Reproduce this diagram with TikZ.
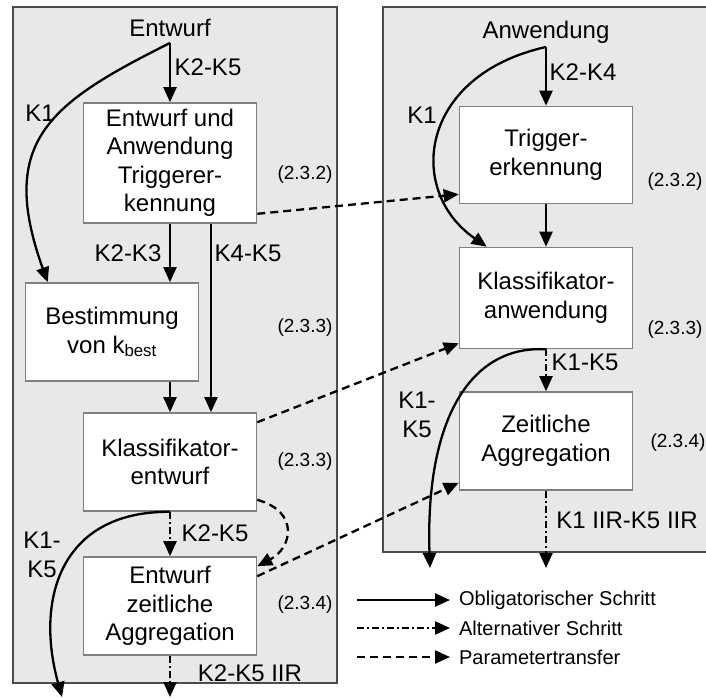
\documentclass[tikz,border=0pt]{standalone}
\usepackage{fontspec}
\setmainfont{Liberation Sans}
\usetikzlibrary{arrows.meta}

\begin{document}
\begin{tikzpicture}[x=1pt, y=-1pt, >={Triangle[length=15pt,width=13pt]}, line width=2.3pt,
        every node/.style={font=\fontsize{24}{28.5}\selectfont},
        panel/.style={draw=black!70, fill=black!9, line width=1.3pt},
        box/.style={draw=black!50, fill=white, line width=1.6pt, align=center,
            minimum width=173pt, minimum height=98pt, inner sep=2pt},
        sec/.style={font=\fontsize{19}{21}\selectfont},
        legend/.style={anchor=west, inner xsep=8pt, font=\fontsize{20}{24}\selectfont},
        alt/.style={dash pattern=on 7pt off 3pt on 2pt off 3pt},
        param/.style={dash pattern=on 8pt off 5pt}]

        \useasboundingbox (0,0) rectangle (706,698);

        % Panels
        \draw[panel] (13,7) rectangle (337,683);
        \draw[panel] (383,7) rectangle (708,552);

        % Entwurf
        \node (E0) at (170,28) {Entwurf};
        \coordinate (jE) at (170,43);
        \node[box, minimum height=120pt] (E1) at (170,163) {Entwurf und\\Anwendung\\Triggerer-\\kennung};
        \node[box] (E2) at (112,332) {Bestimmung\\von k\textsubscript{best}};
        \node[box] (E3) at (170,462) {Klassifikator-\\entwurf};
        \node[box] (E4) at (170,606) {Entwurf\\zeitliche\\Aggregation};
        \coordinate (oE1) at (62,697);
        \coordinate (oE2) at (170,697);

        % Anwendung
        \node (A0) at (546,32) {Anwendung};
        \coordinate (jA) at (546,47);
        \node[box, minimum height=97pt] (A1) at (546,155) {Trigger-\\erkennung};
        \node[box, minimum height=101pt] (A2) at (546,298) {Klassifikator-\\anwendung};
        \node[box] (A3) at (546,441) {Zeitliche\\Aggregation};
        \coordinate (oA1) at (430,568);
        \coordinate (oA2) at (546,568);

        % Sections
        \node[sec] (s1) at (305,175) {(2.3.2)};
        \node[sec] (s2) at (305,328) {(2.3.3)};
        \node[sec] (s3) at (305,462) {(2.3.3)};
        \node[sec] (s4) at (305,605) {(2.3.4)};
        \node[sec] (s5) at (675,182) {(2.3.2)};
        \node[sec] (s6) at (675,330) {(2.3.3)};
        \node[sec] (s7) at (678,443) {(2.3.4)};

        % Steps, left
        \draw[->] (jE) -- (E1);
        \draw[->] (jE) .. controls (50,103) and (-3,141) .. ([xshift=23pt]E2.north west);
        \draw[->] (E1.south) -- (E1.south |- E2.north);
        \draw[->] ([xshift=41pt]E1.south) -- ([xshift=41pt]E3.north);
        \draw[->] (E3.north |- E2.south) -- (E3.north);
        \draw[->] (E3.south) .. controls (60,511) and (35,600) .. (oE1);
        \draw[->, alt] (E3) -- (E4);
        \draw[->, alt] (E4) -- (oE2);

        % Steps, right
        \draw[->] (jA) -- (A1);
        \draw[->] (jA) .. controls (420,75) and (405,190) .. ([xshift=28pt]A2.north west);
        \draw[->] (A1) -- (A2);
        \draw[->] (A2.south) .. controls (470,345) and (425,420) .. (oA1);
        \draw[->, alt] (A2) -- (A3);
        \draw[->, alt] (A3) -- (oA2);

        % Parameter transfer
        \draw[->, param] ([yshift=10pt]E1.south east) -- ([yshift=10pt]A1.south west);
        \draw[->, param] ([yshift=-10pt]E3.north east) -- ([yshift=6pt]A2.south west);
        \draw[->, param] ([yshift=12pt]E3.south east) .. controls (300,512) and (292,548) .. ([yshift=-10pt]E4.north east);
        \draw[->, param] ([yshift=-20pt]E4.north east) -- ([yshift=8pt]A3.south west);

        % Labels
        \node (k1) at (208,67) {K2-K5};
        \node (k2) at (40,113) {K1};
        \node (k3) at (128,253) {K2-K3};
        \node (k4) at (248,253) {K4-K5};
        \node (k5) at (215,533) {K2-K5};
        \node[align=center] (k6) at (42,555) {K1-\\K5};
        \node (k7) at (250,673) {K2-K5 IIR};
        \node (k8) at (583,72) {K2-K4};
        \node (k9) at (422,115) {K1};
        \node (k10) at (585,362) {K1-K5};
        \node[align=center] (k11) at (417,415) {K1-\\K5};
        \node (k12) at (627,520) {K1 IIR-K5 IIR};

        % Legend
        \coordinate (l1) at (357,600);
        \coordinate (l2) at (357,628);
        \coordinate (l3) at (357,657);
        \node[legend] (L1) at (450,600) {Obligatorischer Schritt};
        \node[legend] (L2) at (450,628) {Alternativer Schritt};
        \node[legend] (L3) at (450,657) {Parametertransfer};
        \draw[->] (l1) -- (L1);
        \draw[->, alt] (l2) -- (L2);
        \draw[->, param] (l3) -- (L3);

    \end{tikzpicture}
\end{document}
